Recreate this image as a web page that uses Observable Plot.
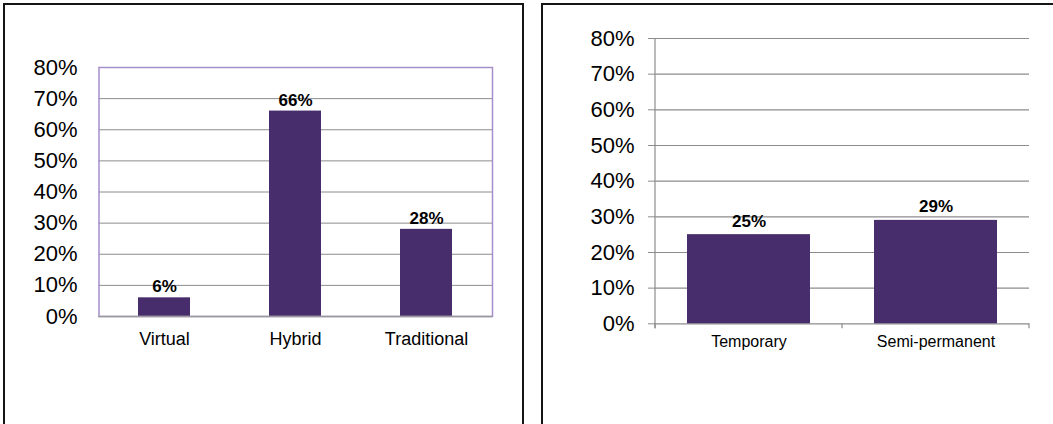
<!DOCTYPE html>
<html>
<head>
<meta charset="utf-8">
<script src="https://cdn.jsdelivr.net/npm/d3@7"></script>
<script src="https://cdn.jsdelivr.net/npm/@observablehq/plot@0.6"></script>
<style>
  html, body { margin: 0; padding: 0; background: #fff; }
  #wrap { position: relative; width: 1053px; height: 424px; overflow: hidden; font-family: "Liberation Sans", Arial, sans-serif; }
  .panel { position: absolute; box-sizing: border-box; border: 2px solid #151515; }
  #p1 { left: 3px; top: 3px; width: 521px; height: 440px; border-bottom: none; }
  #p2 { left: 541px; top: 3px; width: 540px; height: 440px; border-right: none; border-bottom: none; }
  #c1 { position: absolute; left: 0; top: 0; }
  #c2 { position: absolute; left: 530px; top: 0; }
  svg { background: transparent !important; overflow: visible; }
</style>
</head>
<body>
<div id="wrap">
  <div class="panel" id="p1"></div>
  <div class="panel" id="p2"></div>
  <div id="c1"></div>
  <div id="c2"></div>
</div>
<script>
// Chart 1: work arrangement
const cats1 = ["Virtual", "Hybrid", "Traditional"];
const vals1 = [6, 66, 28];
// Chart 2: arrangement type
const cats2 = ["Temporary", "Semi-permanent"];
const vals2 = [25, 29];
// Y axis ticks (percent)
const yTicks = [0, 10, 20, 30, 40, 50, 60, 70, 80];

const BAR = "#482d6c";
const GRID = "#8c8c8c";
const FRAME = "#a48fcb";
const FONT = "'Liberation Sans', Arial, sans-serif";
const pct = d => d + "%";

const data1 = cats1.map((c, i) => ({cat: c, v: vals1[i]}));
const data2 = cats2.map((c, i) => ({cat: c, v: vals2[i]}));

const chart1 = Plot.plot({
  width: 530, height: 424,
  marginLeft: 98.5, marginRight: 38, marginTop: 67, marginBottom: 108,
  style: {fontFamily: FONT, background: "transparent", overflow: "visible"},
  x: {domain: cats1, paddingInner: 0.6, paddingOuter: 0.3},
  y: {domain: [0, 80]},
  marks: [
    Plot.gridY(yTicks, {stroke: GRID, strokeOpacity: 1, strokeWidth: 1}),
    Plot.barY(data1, {x: "cat", y: "v", fill: BAR}),
    Plot.frame({stroke: FRAME, strokeWidth: 1.5}),
    Plot.ruleY([0], {stroke: "#9a9a9a", strokeWidth: 1.5}),
    Plot.axisY(yTicks, {tickSize: 0, tickPadding: 21.5, tickFormat: pct, fontSize: 22, fill: "#000", label: null}),
    Plot.axisX({tickSize: 0, tickPadding: 16, fontSize: 18, fill: "#000", label: null}),
    Plot.text(data1, {x: "cat", y: "v", text: d => pct(d.v), dy: -11, fontSize: 17, fontWeight: "bold", fill: "#000"})
  ]
});
document.getElementById("c1").appendChild(chart1);

const decor2 = (index, scales, values, dims) => {
  const x = scales.x, y = scales.y;
  const step = x(cats2[1]) - x(cats2[0]);
  const bw = typeof x.bandwidth === "function" ? x.bandwidth() : step * 0.66;
  const left = x(cats2[0]) - (step - bw) / 2;
  const y0 = y(0), yTop = y(80);
  const g = d3.create("svg:g").attr("stroke", GRID).attr("stroke-width", 1.2);
  g.append("line").attr("x1", left).attr("x2", left).attr("y1", yTop).attr("y2", y0 + 5);
  for (let i = 0; i <= cats2.length; i++) {
    const bx = left + i * step;
    g.append("line").attr("x1", bx).attr("x2", bx).attr("y1", y0).attr("y2", y0 + 5);
  }
  return g.node();
};

const chart2 = Plot.plot({
  width: 523, height: 424,
  marginLeft: 125, marginRight: 24, marginTop: 38, marginBottom: 100.7,
  style: {fontFamily: FONT, background: "transparent", overflow: "visible"},
  x: {domain: cats2, paddingInner: 0.34, paddingOuter: 0.17},
  y: {domain: [0, 80]},
  marks: [
    Plot.gridY(yTicks, {stroke: GRID, strokeOpacity: 1, strokeWidth: 1.2}),
    Plot.axisY(yTicks, {tickSize: 7, stroke: GRID, strokeOpacity: 1, tickPadding: 14, tickFormat: pct, fontSize: 22, fill: "#000", label: null}),
    decor2,
    Plot.barY(data2, {x: "cat", y: "v", fill: BAR}),
    Plot.axisX({tickSize: 0, tickPadding: 11.7, fontSize: 16, fill: "#000", label: null}),
    Plot.text(data2, {x: "cat", y: "v", text: d => pct(d.v), dy: -13.5, fontSize: 17, fontWeight: "bold", fill: "#000"})
  ]
});
document.getElementById("c2").appendChild(chart2);
</script>
</body>
</html>
